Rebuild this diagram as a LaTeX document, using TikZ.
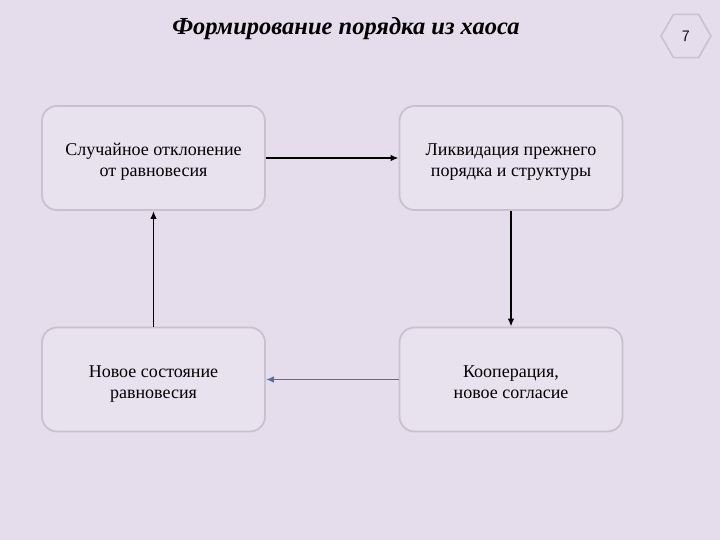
\documentclass[tikz,border=0pt]{standalone}
\usepackage{fontspec}
\setmainfont{Liberation Serif}
\usepackage{xcolor}
\usepackage{tikz}
\usetikzlibrary{shapes.geometric,arrows.meta}

\definecolor{slidebg}{HTML}{E5DDEB}
\definecolor{boxfill}{HTML}{E8E1EE}
\definecolor{boxline}{HTML}{C9C1CF}
\definecolor{flowblue}{HTML}{4F6FA8}

% one line of box text, set a little below the box centre
\newcommand{\boxline}[1]{\raisebox{-4pt}[\height][\depth]{\strut #1}}

\tikzset{
  stagebox/.style={draw=boxline, line width=1.8pt, fill=boxfill, rounded corners=15pt,
    minimum width=223pt, minimum height=104pt, align=center, font=\fontsize{18}{21}\selectfont},
  flow/.style={-{Latex[length=8pt,width=6.5pt]}, line width=1.7pt}
}

\begin{document}
\begin{tikzpicture}[x=1pt,y=-1pt]
  \fill[slidebg] (0,0) rectangle (720,540);
  \useasboundingbox (0,0) rectangle (720,540);
  % title and page number
  \node (title) at (346,29) {\fontsize{24.5}{28}\selectfont\bfseries\itshape Формирование порядка из хаоса};
  \node[regular polygon, regular polygon sides=6, minimum size=50pt, draw=boxline, line width=1.6pt,
    font=\sffamily\fontsize{16}{18}\selectfont] (page) at (686,36) {7};
  % stages
  \node[stagebox] (dev) at (153.5,158) {\boxline{Случайное отклонение}\\\boxline{от равновесия}};
  \node[stagebox] (liq) at (511,158) {\boxline{Ликвидация прежнего}\\\boxline{порядка и структуры}};
  \node[stagebox] (coop) at (511,379.5) {\boxline{Кооперация,}\\\boxline{новое согласие}};
  \node[stagebox] (eq) at (153.5,379.5) {\boxline{Новое состояние}\\\boxline{равновесия}};
  % cycle
  \draw[flow] (dev.east) -- (liq.west);
  \draw[flow] (liq.south) -- (coop.north);
  \draw[flow, flowblue] (coop.west) -- (eq.east);
  \draw[flow] (eq.north) -- (dev.south);
\end{tikzpicture}
\end{document}
